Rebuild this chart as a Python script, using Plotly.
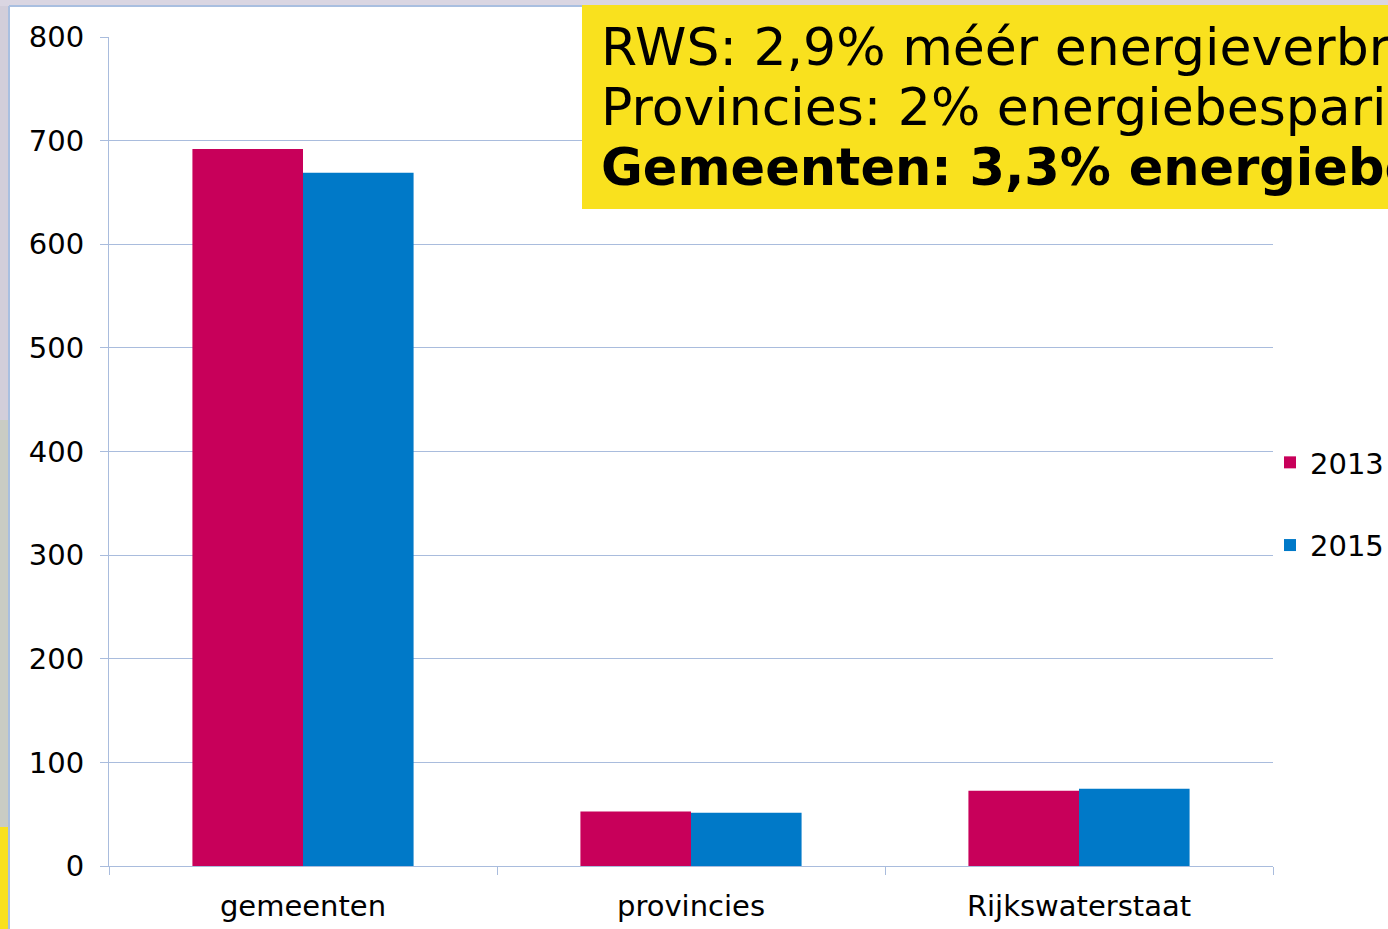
import plotly.graph_objects as go

categories = ["gemeenten", "provincies", "Rijkswaterstaat"]
values_2013 = [692, 52.5, 72.5]
values_2015 = [669, 51.5, 74.6]
series_names = ["2013", "2015"]
y_ticks = [0, 100, 200, 300, 400, 500, 600, 700, 800]
box_lines = [
    "RWS: 2,9% méér energieverbruik",
    "Provincies: 2% energiebesparing",
    "<b>Gemeenten: 3,3% energiebesparing</b>",
]

W, H = 1388, 929
L, R, T, B = 109, 1273, 37, 866  # plot area in pixels


def px(x):
    return (x - L) / (R - L)


def py(y):
    return (B - y) / (B - T)


FONT = "DejaVu Sans"
GRID = "#A9BCDD"
RED = "#C8005A"
BLUE = "#0079C8"

fig = go.Figure()
fig.add_trace(go.Bar(x=categories, y=values_2013, name=series_names[0],
                     marker=dict(color=RED, line=dict(width=0)), legendgroup="a"))
fig.add_trace(go.Bar(x=categories, y=values_2015, name=series_names[1],
                     marker=dict(color=BLUE, line=dict(width=0)), legendgroup="b"))

shapes = [
    dict(type="rect", xref="paper", yref="paper", x0=px(0), x1=px(W), y0=py(6), y1=py(0),
         fillcolor="#DAD6E2", line=dict(width=0), layer="below"),
    dict(type="rect", xref="paper", yref="paper", x0=px(0), x1=px(8), y0=py(420), y1=py(6),
         fillcolor="#D2CEDA", line=dict(width=0), layer="below"),
    dict(type="rect", xref="paper", yref="paper", x0=px(0), x1=px(8), y0=py(827), y1=py(420),
         fillcolor="#C9CCC4", line=dict(width=0), layer="below"),
    dict(type="rect", xref="paper", yref="paper", x0=px(0), x1=px(8), y0=py(H), y1=py(827),
         fillcolor="#F9E11E", line=dict(width=0), layer="below"),
    dict(type="line", xref="paper", yref="paper", x0=px(9), x1=px(9), y0=py(H), y1=py(6),
         line=dict(color="#A9BFE0", width=2), layer="below"),
    dict(type="line", xref="paper", yref="paper", x0=px(9), x1=px(W), y0=py(6), y1=py(6),
         line=dict(color="#A9BFE0", width=2), layer="below"),
    dict(type="rect", xref="paper", yref="paper", x0=px(582), x1=px(W + 20), y0=py(209), y1=py(5),
         fillcolor="#F9E11E", line=dict(width=0), layer="above"),
]

annotations = []
line_y = [47, 107, 167]
sizes = [52, 52, 51]
for txt, yy, sz in zip(box_lines, line_y, sizes):
    annotations.append(dict(
        text=txt, xref="paper", yref="paper", x=px(599), y=py(yy),
        xanchor="left", yanchor="middle", showarrow=False, align="left",
        font=dict(family=FONT, size=sz, color="#000000"),
    ))

fig.update_layout(
    width=W, height=H,
    margin=dict(l=L, r=W - R, t=T, b=H - B, pad=0, autoexpand=False),
    paper_bgcolor="#FFFFFF", plot_bgcolor="#FFFFFF",
    barmode="group", bargap=0.43, bargroupgap=0,
    font=dict(family=FONT, size=29, color="#000000"),
    showlegend=True,
    legend=dict(x=px(1270), y=py(504), xanchor="left", yanchor="middle",
                bgcolor="rgba(0,0,0,0)", font=dict(family=FONT, size=29),
                traceorder="grouped", tracegroupgap=42, itemwidth=30),
    shapes=shapes,
    annotations=annotations,
)
fig.update_yaxes(range=[0, 800], tickvals=y_ticks, showgrid=True, gridcolor=GRID, gridwidth=1,
                 showline=True, linecolor=GRID, linewidth=1, ticks="outside", ticklen=8,
                 tickcolor=GRID, zeroline=False, ticklabelstandoff=10,
                 tickfont=dict(family=FONT, size=29, color="#000000"))
fig.update_xaxes(showline=True, linecolor=GRID, linewidth=1, ticks="outside", ticklen=8,
                 tickcolor=GRID, tickson="boundaries", showgrid=False, ticklabelstandoff=14,
                 tickfont=dict(family=FONT, size=29, color="#000000"))

fig.write_html("out.html", config={"displayModeBar": False},
               post_script="document.body.style.margin='0';document.body.style.overflow='hidden';")
